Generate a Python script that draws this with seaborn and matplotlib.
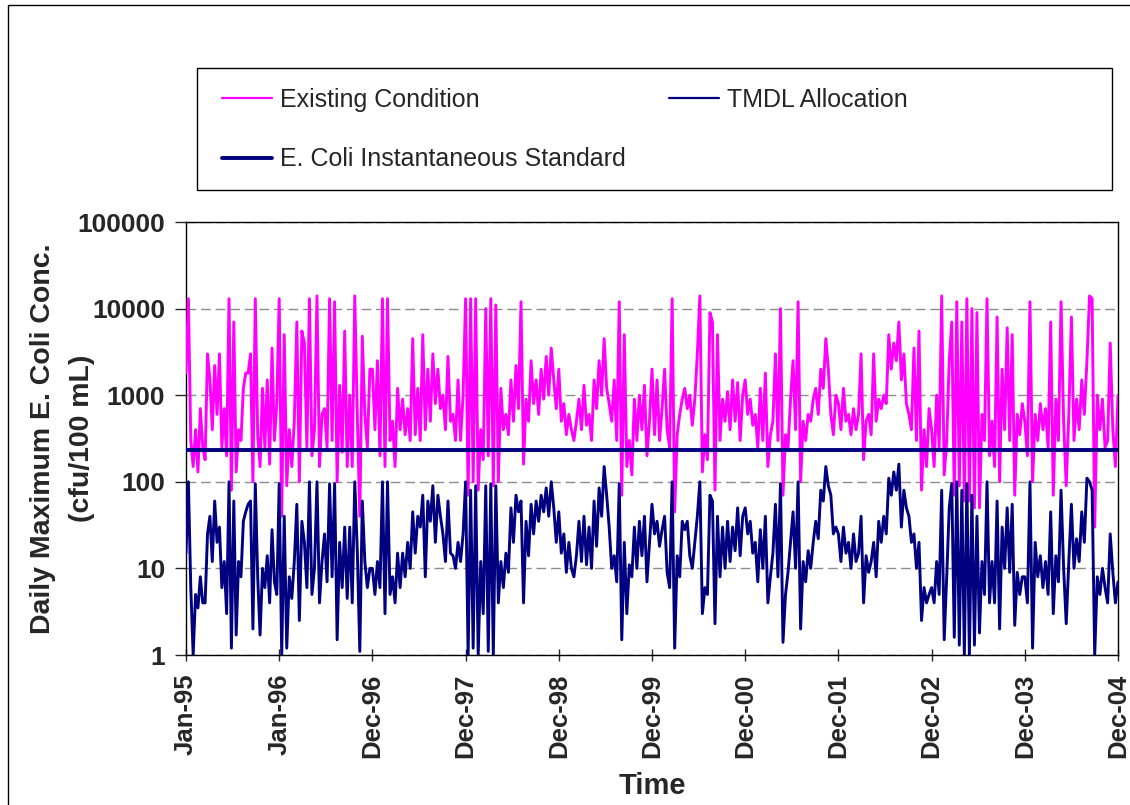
import numpy as np
import pandas as pd
import seaborn as sns
import matplotlib.pyplot as plt
import matplotlib.dates as mdates
from matplotlib.lines import Line2D
from matplotlib.patches import Rectangle
from matplotlib.ticker import FixedLocator, NullLocator

# Daily max E. coli (cfu/100 mL) at roughly 10-day steps.
# One list per 365-day block, the first block starting 1 Jan 1995.
e95 = [1800, 13000, 300, 150, 400, 130, 700, 250, 180, 3000, 1500, 400, 2200, 600, 3000, 250, 700, 200, 13000, 80,
       7000, 130, 400, 300, 1200, 1800, 1800, 3000, 100, 13000, 350, 150, 1200, 250, 1500, 160, 3500, 300, 800]
e96 = [13000, 40, 5000, 90, 400, 150, 500, 7000, 100, 5500, 4000, 250, 13000, 200, 400, 14000, 150, 600, 700, 250,
       13000, 300, 12000, 100, 1300, 220, 5500, 150, 1000, 150, 14000, 600, 40, 4800, 600, 250, 2000]
e97 = [2000, 400, 2500, 200, 13000, 150, 13000, 300, 500, 150, 1200, 400, 900, 350, 700, 300, 4500, 350, 1200, 300,
       5000, 400, 2000, 500, 3000, 800, 2000, 700, 1000, 400, 2800, 500, 600, 300, 1500, 300, 1000]
e98 = [13000, 70, 13000, 100, 13000, 80, 400, 180, 10000, 200, 13000, 90, 11000, 100, 1200, 400, 600, 350, 1500, 500,
       2200, 700, 12000, 160, 900, 500, 2500, 800, 1500, 600, 2000, 900, 2800, 1000, 3500, 1500, 700]
e99 = [2000, 500, 800, 350, 600, 400, 300, 500, 900, 400, 1300, 450, 600, 300, 1500, 700, 2500, 1000, 4500, 1200,
       800, 500, 1500, 300, 12000, 70, 5000, 150, 300, 120, 900, 300, 1000, 400, 1300, 200, 500]
e00 = [2000, 350, 1500, 300, 700, 2000, 400, 250, 13000, 45, 350, 600, 900, 1200, 700, 1000, 450, 900, 3000, 14000,
       130, 350, 180, 9000, 7000, 80, 5000, 300, 900, 500, 1100, 400, 1500, 500, 1400, 300, 1000]
e01 = [1500, 600, 900, 450, 600, 250, 1200, 300, 1800, 150, 350, 500, 3000, 300, 10000, 70, 350, 250, 900, 2500,
       400, 12000, 100, 500, 300, 600, 500, 900, 1200, 600, 2000, 1200, 4500, 2000, 600, 350, 1000]
e02 = [800, 400, 1200, 500, 600, 350, 700, 400, 600, 3000, 180, 500, 600, 350, 3000, 500, 900, 700, 1000, 800,
       5000, 2000, 4000, 2500, 7000, 1500, 3000, 800, 600, 400, 3500, 300, 5500, 80, 400, 150, 700]
e03 = [400, 150, 1000, 250, 14000, 120, 300, 2500, 7000, 70, 12000, 90, 7000, 60, 13000, 60, 10000, 50, 9000, 50,
       600, 300, 13000, 200, 500, 150, 8000, 100, 2000, 400, 6000, 300, 5000, 70, 600, 350, 800]
e04 = [500, 200, 12000, 100, 600, 300, 800, 400, 700, 250, 7000, 70, 900, 300, 12000, 500, 90, 600, 8000, 300,
       900, 400, 1500, 600, 2500, 14000, 13000, 30, 1000, 400, 900, 250, 300, 4000, 400, 150, 1000]

t95 = [15, 100, 6, 1, 5, 3.5, 8, 4, 4, 25, 40, 12, 60, 20, 30, 6, 12, 3, 100, 1.2,
       60, 1.7, 12, 8, 35, 45, 55, 60, 2, 95, 8, 1.7, 10, 6, 14, 4, 28, 7, 5]
t96 = [95, 1, 40, 1.2, 8, 4.5, 12, 55, 2.5, 35, 20, 6, 100, 5, 10, 100, 4, 12, 25, 7,
       95, 8, 95, 1.5, 20, 6, 30, 4.5, 30, 4, 100, 16, 1.1, 60, 12, 6, 10]
t97 = [10, 5, 12, 6, 100, 3, 100, 5, 8, 4, 15, 6, 15, 8, 20, 10, 45, 15, 40, 30,
       70, 8, 60, 35, 90, 20, 70, 40, 25, 12, 60, 15, 14, 10, 20, 12, 25]
t98 = [100, 1, 80, 1.2, 90, 1, 12, 3, 90, 1.1, 95, 1, 90, 4, 12, 6, 15, 9, 50, 20,
       70, 45, 60, 4, 35, 14, 55, 25, 60, 35, 70, 45, 85, 40, 100, 50, 20]
t99 = [45, 15, 25, 9, 20, 10, 8, 14, 35, 12, 40, 11, 30, 10, 60, 18, 85, 40, 150, 70,
       30, 10, 14, 7, 95, 1.5, 20, 3, 11, 8, 30, 10, 35, 14, 40, 7, 20]
t00 = [55, 25, 35, 18, 28, 40, 9, 6, 100, 1.2, 14, 8, 35, 28, 35, 14, 10, 20, 40, 100,
       3, 6, 5, 70, 60, 2.3, 40, 8, 30, 10, 35, 12, 30, 16, 50, 14, 40]
t01 = [50, 25, 35, 15, 20, 7, 28, 10, 40, 4, 8, 15, 55, 8, 95, 1.4, 5, 9, 20, 45,
       10, 100, 2, 12, 7, 16, 10, 20, 35, 22, 80, 60, 150, 90, 70, 25, 30]
t02 = [25, 12, 30, 15, 20, 10, 25, 12, 15, 40, 4, 14, 9, 12, 20, 8, 35, 20, 40, 25,
       110, 70, 130, 80, 160, 30, 80, 50, 40, 20, 25, 10, 20, 2.5, 6, 4, 5]
t03 = [6, 4, 12, 5, 80, 1.5, 8, 50, 95, 1.6, 100, 1.3, 80, 1, 95, 1, 70, 1.3, 40, 1.8,
       12, 5, 100, 4, 12, 4, 60, 2, 30, 10, 50, 9, 55, 2.2, 9, 5, 8]
t04 = [8, 4, 100, 1.2, 20, 8, 14, 6, 12, 5, 45, 3, 14, 7, 80, 10, 2.3, 12, 55, 10,
       22, 12, 45, 20, 110, 100, 80, 1, 8, 5, 10, 6, 4, 25, 9, 4, 7]

EXISTING = [e95, e96, e97, e98, e99, e00, e01, e02, e03, e04]
TMDL = [t95, t96, t97, t98, t99, t00, t01, t02, t03, t04]
STANDARD = 235
Y_TICKS = [1, 10, 100, 1000, 10000, 100000]

PINK = '#FF00FF'
NAVY = '#000080'

start = pd.Timestamp('1995-01-01')
frames = []
for k, (e, t) in enumerate(zip(EXISTING, TMDL)):
    offs = np.linspace(0, 365, len(e), endpoint=(k == len(EXISTING) - 1))
    dates = start + pd.to_timedelta(k * 365 + offs, unit='D')
    frames.append(pd.DataFrame({'date': dates, 'existing': e, 'tmdl': t}))
df = pd.concat(frames, ignore_index=True)

sns.set_style('white')
plt.rcParams['font.family'] = ['Liberation Sans', 'DejaVu Sans']

fig = plt.figure(figsize=(11.3, 8.05), dpi=100)
ax = fig.add_axes([186 / 1130, 1 - 655 / 805, 932 / 1130, 433 / 805])

sns.lineplot(data=df, x='date', y='existing', color=PINK, lw=2.1, estimator=None, sort=False, ax=ax, zorder=3)
sns.lineplot(data=df, x='date', y='tmdl', color=NAVY, lw=2.1, estimator=None, sort=False, ax=ax, zorder=4)
ax.axhline(STANDARD, color=NAVY, lw=2.8, zorder=5)

ax.set_yscale('log')
ax.set_ylim(1, 100000)
ax.yaxis.set_major_locator(FixedLocator(Y_TICKS))
ax.yaxis.set_minor_locator(NullLocator())
ax.set_yticklabels([str(v) for v in Y_TICKS])
ax.grid(axis='y', which='major', color='#8c8c8c', lw=1, ls=(0, (7, 3.5)))

major = [start + pd.Timedelta(days=365 * k) for k in range(11)]
minor = [mdates.date2num(start + pd.Timedelta(days=365 * j / 6)) for j in range(61) if j % 6]
ax.set_xlim(major[0], major[-1])
ax.set_xticks(major)
ax.xaxis.set_major_formatter(mdates.DateFormatter('%b-%y'))
ax.xaxis.set_minor_locator(FixedLocator(minor))

ax.tick_params(axis='x', which='major', direction='inout', length=9, width=1, labelrotation=90,
               labelsize=18.5, pad=9)
ax.tick_params(axis='x', which='minor', direction='in', length=3, width=1)
ax.tick_params(axis='y', which='major', direction='out', length=8, width=1, labelsize=19, pad=7)
ax.tick_params(bottom=True, left=True)
for lbl in ax.get_xticklabels() + ax.get_yticklabels():
    lbl.set_fontweight('bold')
for s in ax.spines.values():
    s.set_visible(True)
    s.set_color('black')
    s.set_linewidth(1)

ax.set_xlabel('Time', fontsize=21, fontweight='bold', labelpad=10)
ax.set_ylabel('Daily Maximum E. Coli Conc.\n(cfu/100 mL)', fontsize=20.5, fontweight='bold', linespacing=1.65)
ax.yaxis.set_label_coords(-0.098, 0.5)

# legend box
fig.add_artist(Rectangle((197 / 1130, 1 - 190 / 805), 915 / 1130, 122 / 805, transform=fig.transFigure,
                         fill=False, ec='black', lw=1))
handles = [Line2D([], [], color=PINK, lw=1.6), Line2D([], [], color=NAVY, lw=2.8), Line2D([], [], color=NAVY, lw=1.6)]
labels = ['Existing Condition', 'E. Coli Instantaneous Standard', 'TMDL Allocation']
fig.legend(handles, labels, ncol=2, loc='upper left', bbox_to_anchor=(222 / 1130, 1 - 88 / 805),
           frameon=False, fontsize=18, handlelength=2.0, handletextpad=0.33, columnspacing=1.7,
           labelspacing=1.42, borderpad=0, borderaxespad=0)

# outer chart border (right and bottom edges fall outside the image)
fig.add_artist(Rectangle((8 / 1130, -0.05), 1.2, 1 - 5 / 805 + 0.05, transform=fig.transFigure,
                         fill=False, ec='black', lw=1))

fig.savefig('out.png', dpi=100, facecolor='white')
